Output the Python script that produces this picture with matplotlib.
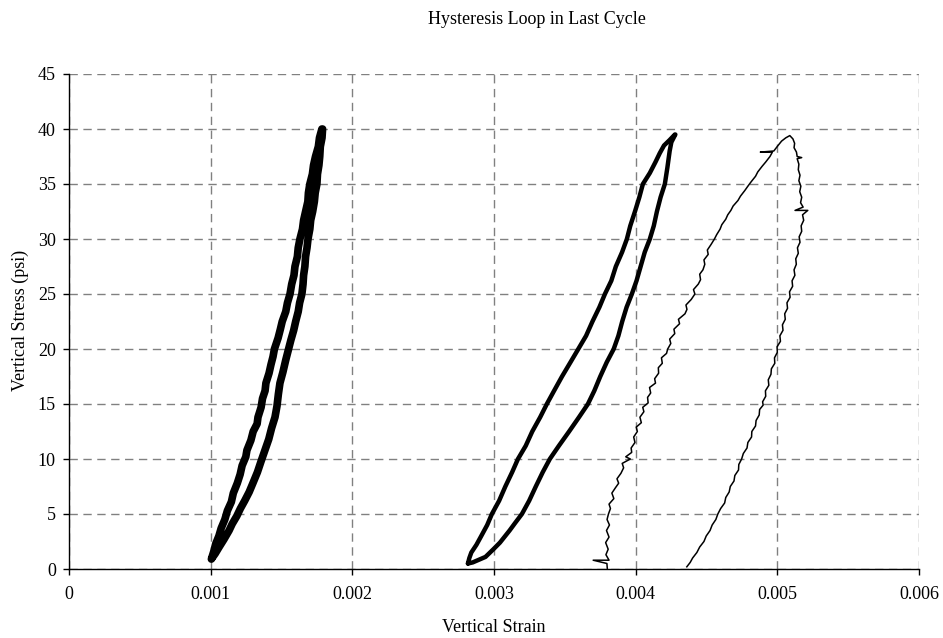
import matplotlib
matplotlib.use("Agg")
import matplotlib.pyplot as plt
from matplotlib.ticker import FixedLocator, FuncFormatter

plt.rcParams['font.family'] = ['Liberation Serif', 'DejaVu Serif']

title = "Hysteresis Loop in Last Cycle"
x_label = "Vertical Strain"
y_label = "Vertical Stress (psi)"
x_ticks = [0, 0.001, 0.002, 0.003, 0.004, 0.005, 0.006]
y_ticks = [0, 5, 10, 15, 20, 25, 30, 35, 40, 45]

# Loop 1 (thick): up branch then down branch
loop1_strain = [0.001005, 0.001022, 0.001036, 0.001058, 0.001074, 0.001100, 0.001118,
                0.001146, 0.001160, 0.001188, 0.001208, 0.001222, 0.001248, 0.001256,
                0.001284, 0.001300, 0.001328, 0.001334, 0.001356, 0.001366, 0.001384,
                0.001390, 0.001412, 0.001426, 0.001440, 0.001450, 0.001476, 0.001492,
                0.001505, 0.001530, 0.001542, 0.001560, 0.001572, 0.001588, 0.001595,
                0.001612, 0.001618, 0.001630, 0.001648, 0.001656, 0.001670, 0.001686,
                0.001690, 0.001700, 0.001718, 0.001726, 0.001740, 0.001760, 0.001768,
                0.001785,
                0.001790, 0.001786, 0.001774, 0.001770, 0.001764, 0.001754, 0.001750,
                0.001738, 0.001732, 0.001720, 0.001706, 0.001700, 0.001687, 0.001680,
                0.001670, 0.001665, 0.001656, 0.001652, 0.001644, 0.001628, 0.001618,
                0.001600, 0.001586, 0.001566, 0.001550, 0.001530, 0.001510, 0.001489,
                0.001478, 0.001468, 0.001454, 0.001430, 0.001410, 0.001383, 0.001356,
                0.001330, 0.001298, 0.001272, 0.001240, 0.001210, 0.001184, 0.001152,
                0.001130, 0.001094, 0.001060, 0.001032, 0.001010]
loop1_stress = [0.9, 1.6, 2.3, 3.0, 3.7, 4.5, 5.3,
                6.1, 6.9, 7.8, 8.6, 9.4, 10.2, 10.8,
                11.7, 12.5, 13.2, 13.8, 14.7, 15.5, 16.2,
                16.9, 17.8, 18.6, 19.3, 20.0, 21.0, 21.8,
                22.5, 23.4, 24.2, 25.0, 25.9, 26.7, 27.5,
                28.4, 29.2, 30.0, 30.9, 31.7, 32.5, 33.4,
                34.2, 35.0, 35.9, 36.7, 37.5, 38.4, 39.2,
                40.0,
                40.0, 39.2, 38.4, 37.5, 36.7, 35.9, 35.0,
                34.2, 33.4, 32.5, 31.7, 30.9, 30.0, 29.2,
                28.4, 27.5, 26.7, 25.9, 25.0, 24.2, 23.4,
                22.5, 21.7, 20.8, 20.0, 19.0, 17.9, 16.9,
                15.9, 14.8, 13.8, 12.8, 11.8, 10.8, 9.8,
                8.8, 7.8, 7.0, 6.2, 5.5, 4.8, 4.1,
                3.5, 2.7, 2.0, 1.4, 1.0]

# Loop 2 (medium)
loop2_strain = [0.002816, 0.002826, 0.002840, 0.002876, 0.002910, 0.002952, 0.002985,
                0.003036, 0.003080, 0.003128, 0.003169, 0.003224, 0.003270, 0.003326,
                0.003373, 0.003424, 0.003480, 0.003540, 0.003595, 0.003650, 0.003695,
                0.003744, 0.003783, 0.003828, 0.003860, 0.003904, 0.003938, 0.003962,
                0.003995, 0.004026, 0.004051, 0.004100, 0.004140, 0.004170, 0.004200,
                0.004240, 0.004277,
                0.004280, 0.004252, 0.004240, 0.004224, 0.004206, 0.004176, 0.004150,
                0.004128, 0.004100, 0.004064, 0.004035, 0.004006, 0.003973, 0.003936,
                0.003905, 0.003878, 0.003845, 0.003796, 0.003750, 0.003708, 0.003663,
                0.003600, 0.003530, 0.003458, 0.003394, 0.003344, 0.003295, 0.003248,
                0.003197, 0.003150, 0.003110, 0.003042, 0.002996, 0.002940, 0.002850,
                0.002816]
loop2_stress = [0.5, 1.0, 1.5, 2.2, 3.0, 4.0, 5.0,
                6.2, 7.5, 8.8, 10.0, 11.2, 12.5, 13.8,
                15.0, 16.2, 17.5, 18.8, 20.0, 21.2, 22.5,
                23.8, 25.0, 26.2, 27.5, 28.8, 30.0, 31.2,
                32.5, 33.8, 35.0, 36.0, 37.0, 37.8, 38.5,
                39.0, 39.5,
                39.5, 38.8, 38.0, 36.5, 35.0, 33.8, 32.5,
                31.2, 30.0, 28.8, 27.5, 26.2, 25.0, 23.8,
                22.5, 21.2, 20.0, 18.8, 17.5, 16.2, 15.0,
                13.8, 12.5, 11.2, 10.0, 8.8, 7.5, 6.2,
                5.0, 4.2, 3.5, 2.4, 1.8, 1.1, 0.6,
                0.5]

# Loop 3 (thin, open): loading branch then unloading branch
loop3_strain = [0.003800, 0.003797, 0.003700, 0.003812, 0.003790, 0.003806, 0.003788,
                0.003812, 0.003794, 0.003815, 0.003798, 0.003808, 0.003822, 0.003812,
                0.003846, 0.003832, 0.003858, 0.003880, 0.003868, 0.003896, 0.003915,
                0.003905, 0.003962, 0.003930, 0.003972, 0.003968, 0.003995, 0.003986,
                0.004012, 0.004004, 0.004040, 0.004030, 0.004058, 0.004050, 0.004088,
                0.004084, 0.004106, 0.004098, 0.004140, 0.004134, 0.004162, 0.004160,
                0.004188, 0.004182, 0.004218, 0.004226, 0.004248, 0.004240, 0.004276,
                0.004270, 0.004310, 0.004302, 0.004348, 0.004362, 0.004355, 0.004392,
                0.004418, 0.004408, 0.004442, 0.004458, 0.004452, 0.004475, 0.004488,
                0.004482, 0.004512, 0.004506, 0.004532, 0.004556, 0.004572, 0.004596,
                0.004608, 0.004636, 0.004650, 0.004672, 0.004688, 0.004722, 0.004740,
                0.004770, 0.004792, 0.004815, 0.004846, 0.004862, 0.004892, 0.004918,
                0.004948, 0.004965, 0.004880, 0.004975, 0.005005, 0.005030, 0.005060,
                0.005088,
                0.005110, 0.005122, 0.005118, 0.005135, 0.005140, 0.005172, 0.005140,
                0.005152, 0.005148, 0.005160, 0.005152, 0.005166, 0.005158, 0.005172,
                0.005164, 0.005182, 0.005125, 0.005215, 0.005178, 0.005186, 0.005168,
                0.005172, 0.005154, 0.005160, 0.005142, 0.005148, 0.005130, 0.005134,
                0.005118, 0.005124, 0.005104, 0.005108, 0.005086, 0.005090, 0.005068,
                0.005072, 0.005052, 0.005056, 0.005036, 0.005040, 0.005018, 0.005022,
                0.004998, 0.005000, 0.004980, 0.004982, 0.004958, 0.004955, 0.004936,
                0.004940, 0.004916, 0.004918, 0.004896, 0.004900, 0.004875, 0.004872,
                0.004850, 0.004846, 0.004820, 0.004818, 0.004792, 0.004786, 0.004760,
                0.004748, 0.004728, 0.004726, 0.004700, 0.004694, 0.004668, 0.004660,
                0.004636, 0.004628, 0.004600, 0.004580, 0.004566, 0.004540, 0.004525,
                0.004498, 0.004482, 0.004452, 0.004432, 0.004402, 0.004385, 0.004361]
loop3_stress = [0.0, 0.5, 0.8, 0.8, 1.3, 1.8, 2.4,
                2.9, 3.5, 4.0, 4.5, 5.0, 5.5, 5.9,
                6.4, 6.9, 7.4, 7.8, 8.2, 8.7, 9.2,
                9.6, 10.0, 10.2, 10.6, 11.0, 11.5, 12.0,
                12.5, 12.9, 13.3, 13.8, 14.3, 14.7, 15.1,
                15.6, 16.0, 16.5, 16.9, 17.3, 17.8, 18.3,
                18.7, 19.2, 19.6, 20.0, 20.5, 20.9, 21.4,
                21.8, 22.3, 22.7, 23.2, 23.6, 24.0, 24.5,
                25.0, 25.4, 25.9, 26.3, 26.8, 27.2, 27.7,
                28.1, 28.6, 29.0, 29.5, 30.0, 30.4, 30.9,
                31.3, 31.8, 32.2, 32.6, 33.0, 33.5, 33.9,
                34.4, 34.8, 35.2, 35.7, 36.1, 36.6, 37.0,
                37.5, 37.9, 37.9, 38.0, 38.5, 38.9, 39.2,
                39.4,
                39.1, 38.7, 38.3, 37.9, 37.5, 37.4, 37.3,
                36.8, 36.3, 35.8, 35.3, 34.8, 34.3, 33.8,
                33.3, 32.9, 32.6, 32.6, 32.2, 31.7, 31.2,
                30.7, 30.2, 29.7, 29.2, 28.7, 28.2, 27.7,
                27.2, 26.7, 26.2, 25.7, 25.2, 24.7, 24.2,
                23.7, 23.2, 22.7, 22.2, 21.7, 21.2, 20.7,
                20.2, 19.7, 19.2, 18.7, 18.2, 17.7, 17.2,
                16.7, 16.2, 15.7, 15.2, 14.9, 14.5, 14.0,
                13.5, 13.0, 12.5, 12.0, 11.5, 11.0, 10.5,
                10.0, 9.5, 9.0, 8.5, 8.0, 7.5, 7.0,
                6.5, 6.0, 5.5, 5.0, 4.5, 4.0, 3.5,
                3.0, 2.5, 2.0, 1.5, 1.0, 0.6, 0.2]

fig = plt.figure(figsize=(9.43, 6.38), dpi=100)
ax = fig.add_axes([69/943, 1 - 569/638, 850/943, 495/638])

ax.plot(loop1_strain, loop1_stress, color='black', lw=5.5,
        solid_joinstyle='round', solid_capstyle='round')
ax.plot(loop2_strain, loop2_stress, color='black', lw=3.2,
        solid_joinstyle='round', solid_capstyle='round')
ax.plot(loop3_strain, loop3_stress, color='black', lw=1.1)

ax.set_xlim(0, 0.006)
ax.set_ylim(0, 45)
ax.xaxis.set_major_locator(FixedLocator(x_ticks))
ax.yaxis.set_major_locator(FixedLocator(y_ticks))
ax.xaxis.set_major_formatter(FuncFormatter(lambda v, p: "0" if v == 0 else f"{v:.3f}"))
ax.yaxis.set_major_formatter(FuncFormatter(lambda v, p: f"{v:.0f}"))

ax.grid(True, color='#808080', linestyle=(0, (6, 4)), linewidth=1.0)
ax.set_axisbelow(True)
for s in ['top', 'right']:
    ax.spines[s].set_visible(False)
for s in ['left', 'bottom']:
    ax.spines[s].set_linewidth(1.0)
    ax.spines[s].set_color('black')

ax.tick_params(axis='both', direction='out', length=4.5, width=1.0, labelsize=13)
ax.tick_params(axis='x', pad=8)
ax.tick_params(axis='y', pad=5)

fig.text(537/943, 1 - 20/638, title, ha='center', va='center', fontsize=13)
fig.text(494/943, 1 - 627/638, x_label, ha='center', va='center', fontsize=13)
fig.text(20/943, 1 - 320/638, y_label, ha='center', va='center', rotation=90, fontsize=13)

fig.savefig('out.png', dpi=100)
